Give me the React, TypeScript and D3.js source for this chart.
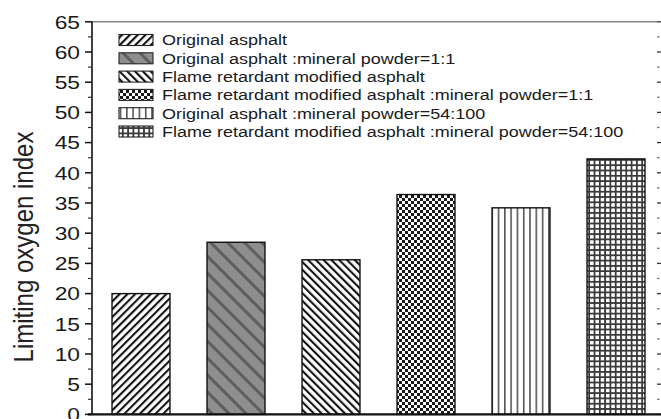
import React from "react";
import * as d3 from "d3";

const categories = [
  "Original asphalt",
  "Original asphalt :mineral powder=1:1",
  "Flame retardant modified asphalt",
  "Flame retardant modified asphalt :mineral powder=1:1",
  "Original asphalt :mineral powder=54:100",
  "Flame retardant modified asphalt :mineral powder=54:100",
];
const values = [20.0, 28.5, 25.6, 36.4, 34.2, 42.3];
const patternIds = ["p1", "p2", "p3", "p4", "p5", "p6"];
const yTicks = [0, 5, 10, 15, 20, 25, 30, 35, 40, 45, 50, 55, 60, 65];
const yLabel = "Limiting oxygen index";

const W = 661;
const H = 419;
const left = 92;
const right = 657;
const top = 21.8;
const bottom = 414.4;
const FONT = "'Liberation Sans', Arial, Helvetica, sans-serif";
const SX = 1.2;

export default function App() {
  const y = d3.scaleLinear().domain([0, 65]).range([bottom, top]);
  const x = d3
    .scaleBand<string>()
    .domain(categories)
    .range([93.5, 663.5])
    .paddingInner(0.39)
    .paddingOuter(0.195);
  const minor = d3.range(2.5, 65, 5);
  const allRight = d3.range(0, 65.01, 2.5);

  return (
    <div style={{ position: "absolute", left: 0, top: 0 }}>
      <svg width={W} height={H} style={{ display: "block", background: "#fff" }}>
        <defs>
          <pattern id="p1" patternUnits="userSpaceOnUse" width={5.5} height={5.5} patternTransform="rotate(45)">
            <rect width={5.5} height={5.5} fill="#fff" />
            <rect x={0} y={0} width={2.1} height={5.5} fill="#111" />
          </pattern>
          <pattern id="p2" patternUnits="userSpaceOnUse" width={12} height={12} patternTransform="rotate(-45)">
            <rect width={12} height={12} fill="#8e8e8e" />
            <rect x={0} y={0} width={3} height={12} fill="#5e5e5e" />
          </pattern>
          <pattern id="p3" patternUnits="userSpaceOnUse" width={5.5} height={5.5} patternTransform="rotate(-45)">
            <rect width={5.5} height={5.5} fill="#fff" />
            <rect x={0} y={0} width={2.1} height={5.5} fill="#111" />
          </pattern>
          <pattern id="p4" patternUnits="userSpaceOnUse" width={6} height={6}>
            <rect width={6} height={6} fill="#fff" />
            <rect x={0} y={0} width={3} height={3} fill="#1a1a1a" />
            <rect x={3} y={3} width={3} height={3} fill="#1a1a1a" />
          </pattern>
          <pattern id="p5" patternUnits="userSpaceOnUse" width={6.3} height={6}>
            <rect width={6.3} height={6} fill="#fff" />
            <rect x={0} y={0} width={1.6} height={6} fill="#555" />
          </pattern>
          <pattern id="p6" patternUnits="userSpaceOnUse" width={5.3} height={5.3}>
            <rect width={5.3} height={5.3} fill="#fff" />
            <rect x={0} y={0} width={1.8} height={5.3} fill="#3a3a3a" />
            <rect x={0} y={0} width={5.3} height={1.8} fill="#3a3a3a" />
          </pattern>
        </defs>

        {/* bars */}
        {categories.map((c, i) => (
          <rect
            key={c}
            x={x(c)}
            y={y(values[i])}
            width={x.bandwidth()}
            height={bottom - y(values[i])}
            fill={`url(#${patternIds[i]})`}
            stroke="#111"
            strokeWidth={1.4}
          />
        ))}

        {/* top frame */}
        <line x1={left} x2={right} y1={top} y2={top} stroke="#888" strokeWidth={1.5} />

        {/* left axis */}
        <line x1={left} x2={left} y1={top} y2={bottom} stroke="#111" strokeWidth={1.6} />
        {yTicks.map((t) => (
          <g key={"t" + t}>
            <line x1={left - 7} x2={left} y1={y(t)} y2={y(t)} stroke="#111" strokeWidth={1.5} />
            <text
              transform={`translate(80,${y(t) + 6.8}) scale(${SX},1)`}
              textAnchor="end"
              fontFamily={FONT}
              fontSize={19}
              fill="#1a1a1a"
            >
              {t}
            </text>
          </g>
        ))}
        {minor.map((t) => (
          <line key={"m" + t} x1={left - 4} x2={left} y1={y(t)} y2={y(t)} stroke="#333" strokeWidth={1.2} />
        ))}

        {/* right ticks */}
        {allRight.map((t, i) => (
          <line
            key={"r" + t}
            x1={right}
            x2={right + (i % 2 === 0 ? 4.5 : 2.5)}
            y1={y(t)}
            y2={y(t)}
            stroke={i % 2 === 0 ? "#333" : "#777"}
            strokeWidth={1.3}
          />
        ))}

        {/* bottom axis */}
        <line x1={left - 4} x2={W} y1={bottom} y2={bottom} stroke="#111" strokeWidth={2.4} />

        {/* y label */}
        <text
          transform={`translate(33,247) scale(1.15,1) rotate(-90)`}
          textAnchor="middle"
          fontFamily={FONT}
          fontSize={24}
          fill="#222"
        >
          {yLabel}
        </text>

        {/* legend */}
        {categories.map((c, i) => {
          const cy = 40 + i * 18.3;
          return (
            <g key={"l" + c}>
              <rect
                x={119}
                y={cy - 5.5}
                width={34}
                height={11}
                fill={`url(#${patternIds[i]})`}
                stroke="#222"
                strokeWidth={1.1}
              />
              <text
                transform={`translate(162,${cy + 5.4}) scale(${SX},1)`}
                fontFamily={FONT}
                fontSize={15}
                fill="#1a1a1a"
              >
                {c}
              </text>
            </g>
          );
        })}
      </svg>
    </div>
  );
}
